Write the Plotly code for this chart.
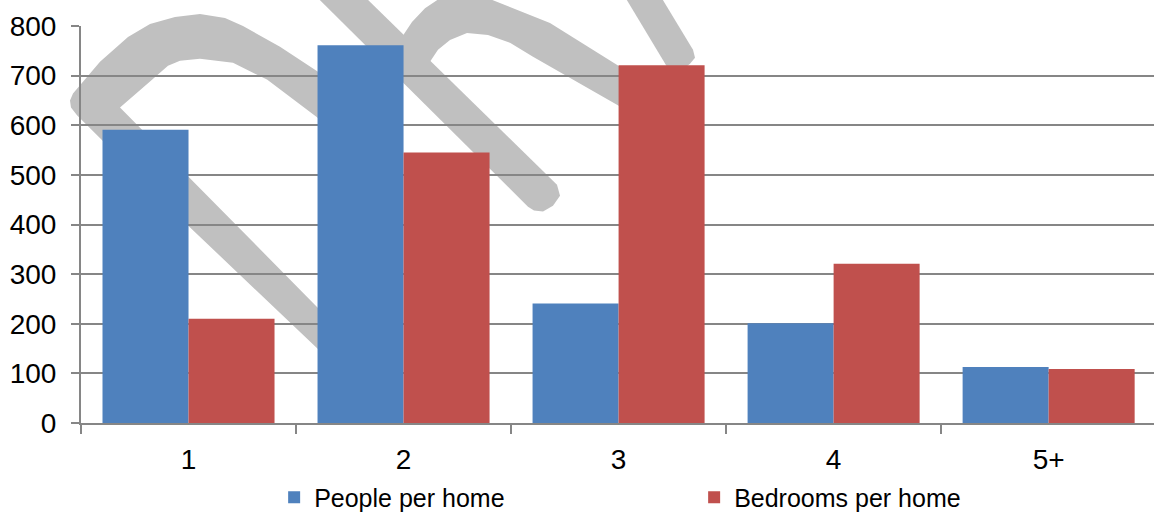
import plotly.graph_objects as go

# ---- data ----
categories = ["1", "2", "3", "4", "5+"]
people_per_home = [591, 761, 241, 201, 113]
bedrooms_per_home = [210, 545, 721, 321, 109]
series_names = ["People per home", "Bedrooms per home"]
y_tick_values = [0, 100, 200, 300, 400, 500, 600, 700, 800]

# ---- styling ----
BLUE = "#4F81BD"
RED = "#C0504D"
GRID = "#868686"
FONT = "Liberation Sans, Arial, sans-serif"
W, H = 1154, 513
ML, MR, MT, MB = 81, 0, 26, 87
PW, PH = W - ML - MR, H - MT - MB

# decorative watermark outlines (pixel coordinates of the canvas)
wm_a = [(355, 387), (188, 227), (77, 116), (71, 108), (70, 101), (73, 94), (100, 62),
        (128, 37), (150, 24), (175, 17), (200, 14), (225, 18), (243, 26), (280, 47),
        (318, 72), (365, 110), (340, 140), (317, 118), (267, 80), (233, 63), (200, 59),
        (180, 61), (168, 66), (150, 82), (120, 108), (318, 310), (380, 372)]
wm_c = [(300, -20), (348, -20), (557, 186), (560, 197), (553, 207), (543, 213),
        (534, 212), (528, 208)]
wm_d = [(395, 55), (400, 40), (412, 22), (425, 8), (440, -2), (460, -8), (480, -5),
        (493, 0), (550, 23), (620, 67), (665, 95), (645, 125), (620, 107), (533, 57),
        (510, 43), (488, 35), (467, 33), (450, 40), (438, 50), (430, 62)]
wm_e = [(615, -20), (651, -20), (693, 50), (695, 58), (690, 64), (680, 72), (667, 67)]


def to_path(pts):
    out = []
    for i, (px, py) in enumerate(pts):
        xp = (px - ML) / PW
        yp = (MT + PH - py) / PH
        out.append(("M" if i == 0 else "L") + f"{xp:.5f},{yp:.5f}")
    return " ".join(out) + " Z"


fig = go.Figure()
fig.add_trace(go.Bar(x=categories, y=people_per_home, name=series_names[0],
                     marker=dict(color=BLUE, line=dict(width=0))))
fig.add_trace(go.Bar(x=categories, y=bedrooms_per_home, name=series_names[1],
                     marker=dict(color=RED, line=dict(width=0))))

shapes = []
for pts in (wm_a, wm_c, wm_d, wm_e):
    shapes.append(dict(type="path", xref="paper", yref="paper", path=to_path(pts),
                       fillcolor="#C0C0C0", line=dict(width=0), layer="below"))

fig.update_layout(
    width=W, height=H, autosize=False,
    margin=dict(l=ML, r=MR, t=MT, b=MB, pad=0),
    paper_bgcolor="white", plot_bgcolor="rgba(0,0,0,0)",
    barmode="group", bargap=0.2, bargroupgap=0,
    font=dict(family=FONT, color="black", size=28),
    shapes=shapes,
    showlegend=True,
    legend=dict(orientation="h", x=0.18, xanchor="left", y=0.03, yref="container",
                yanchor="middle", font=dict(size=25, family=FONT, color="black"),
                entrywidth=375, entrywidthmode="pixels", bgcolor="rgba(0,0,0,0)",
                traceorder="normal"),
)
fig.update_xaxes(type="category", range=[-0.5, 4.49], showgrid=False,
                 showline=True, linecolor=GRID, linewidth=2,
                 ticks="outside", tickson="boundaries", ticklen=9, tickwidth=2,
                 tickcolor=GRID, ticklabelstandoff=10,
                 tickfont=dict(size=28, family=FONT, color="black"))
fig.update_yaxes(range=[0, 800], tickvals=y_tick_values, showgrid=True,
                 gridcolor=GRID, gridwidth=2, showline=True, linecolor=GRID,
                 linewidth=2, zeroline=False, ticks="outside", ticklen=8,
                 tickwidth=2, tickcolor=GRID, ticklabelstandoff=9,
                 tickfont=dict(size=28, family=FONT, color="black"))

fig.write_html("out.html")
